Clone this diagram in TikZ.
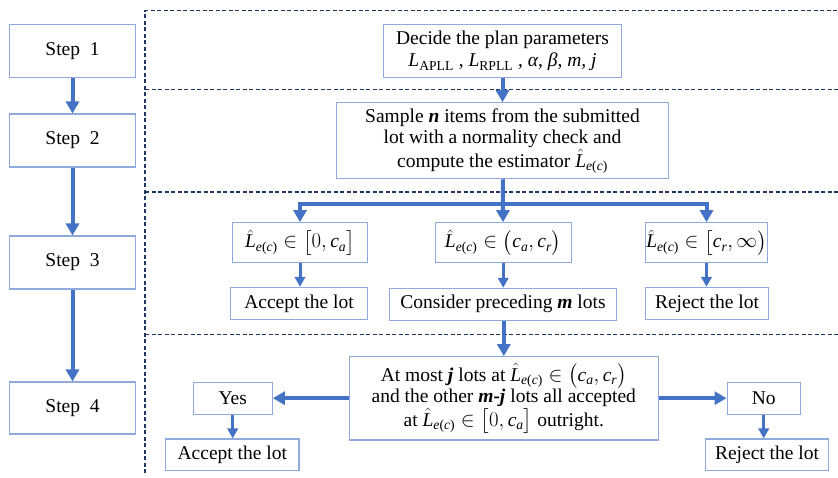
\documentclass[tikz,border=0pt]{standalone}
\usepackage{fontspec}
\usepackage{amsmath}
\setmainfont{Liberation Serif}
\usetikzlibrary{arrows.meta}
\definecolor{boxc}{HTML}{8FAADC}
\definecolor{arrc}{HTML}{4472C4}
\definecolor{dashc}{HTML}{203864}
\newcommand{\mi}[1]{\text{\itshape #1}}
\newcommand{\Lh}{\hat{\mi{L}}_{\mi{e}\text{(}\mi{c}\text{)}}}
\newcommand{\ca}{\mi{c}_{\mi{a}}}
\newcommand{\cre}{\mi{c}_{\mi{r}}}
\begin{document}
\begin{tikzpicture}[x=1pt,y=-1pt,
  box/.style n args={2}{draw=boxc, line width=1.1pt, fill=white, inner sep=0pt,
     align=center, minimum width=#1, minimum height=#2,
     font=\fontsize{19.5}{21.5}\selectfont},
  arr/.style={draw=arrc, line width=4pt, -{Triangle[width=13pt,length=12pt]}},
  sarr/.style={draw=arrc, line width=3pt, -{Triangle[width=10.5pt,length=10pt]}},
  dsh/.style={draw=dashc, line width=1.2pt, dash pattern=on 4pt off 2.5pt}]
\useasboundingbox (0,0) rectangle (838,477);
% dashed frame
\coordinate (vt) at (145,10.7);
\coordinate (vb) at (145,473);
\coordinate (h0r) at (838,10.7);
\coordinate (h1l) at (145,89.3);  \coordinate (h1r) at (838,89.3);
\coordinate (h2l) at (145,192);   \coordinate (h2r) at (838,192);
\coordinate (h3l) at (145,334.3); \coordinate (h3r) at (838,334.3);
\draw[dsh] (vb) -- (vt) -- (h0r);
\draw[dsh] (h1l) -- (h1r);
\draw[dsh] (h2l) -- (h2r);
\draw[dsh] (h3l) -- (h3r);
% step column
\node[box={126.5pt}{52.6pt}] (s1) at (72.5,51) {Step\enspace1};
\node[box={126.5pt}{53pt}] (s2) at (72.5,140.5) {Step\enspace2};
\node[box={126.5pt}{53pt}] (s3) at (72.5,262.5) {Step\enspace3};
\node[box={126.5pt}{52pt}] (s4) at (72.5,408) {Step\enspace4};
\draw[arr] (s1) -- (s2);
\draw[arr] (s2) -- (s3);
\draw[arr] (s3) -- (s4);
% main flow
\node[box={238.4pt}{52.6pt}] (b1) at (502.5,51)
  {Decide the plan parameters\\[1pt]
   $\mi{L}_{\text{APLL}}$ , $\mi{L}_{\text{RPLL}}$ , \textit{α}, \textit{β}, \textit{m}, \textit{j}};
\node[box={331.6pt}{76pt}] (b2) at (502.5,140.7)
  {Sample \textbf{\textit{n}} items from the submitted\\
   lot with a normality check and\\
   compute the estimator $\Lh$};
\node[box={135.4pt}{39.6pt}] (c1) at (300,242.5) {$\Lh\in\big[0,\ca\big]$};
\node[box={135.7pt}{39.6pt}] (c2) at (503.2,242.5) {$\Lh\in\big(\ca,\cre\big)$};
\node[box={121.6pt}{39.6pt}] (c3) at (706.5,242.5) {$\Lh\in\big[\cre,\infty\big)$};
\node[box={137.4pt}{32.4pt}] (a1) at (299,303.5) {Accept the lot};
\node[box={227.4pt}{32pt}] (a2) at (503,304.3) {Consider preceding \textbf{\textit{m}} lots};
\node[box={123.4pt}{32.4pt}] (a3) at (707,303.5) {Reject the lot};
\node[box={309pt}{83.3pt}] (big) at (503.8,398.3)
  {At most \textbf{\textit{j}} lots at $\Lh\in\big(\ca,\cre\big)$\\
   and the other \textbf{\textit{m-j}} lots all accepted\\
   at $\Lh\in\big[0,\ca\big]$ outright.};
\node[box={79.3pt}{31.7pt}] (yes) at (232.7,398.2) {Yes};
\node[box={133.3pt}{31.7pt}] (acc) at (232.3,454.8) {Accept the lot};
\node[box={73.3pt}{31.7pt}] (no) at (763.7,398.2) {No};
\node[box={123.4pt}{31.7pt}] (rej) at (767,454.8) {Reject the lot};
% connectors
\coordinate (br) at (502.5,204);
\draw[arr] (b1) -- (b2);
\draw[arr] (b2) -- (c2);
\draw[arr] (br) -| (c1.north);
\draw[arr] (br) -| (c3.north);
\draw[sarr] (c1) -- (c1 |- a1.north);
\draw[sarr] (c2) -- (c2 |- a2.north);
\draw[sarr] (c3) -- (c3 |- a3.north);
\draw[arr] (a2.south -| big.north) -- (big.north);
\draw[arr] (big.west |- yes) -- (yes.east);
\draw[arr] (big.east |- no) -- (no.west);
\draw[sarr] (yes) -- (yes |- acc.north);
\draw[sarr] (no) -- (no |- rej.north);
\end{tikzpicture}
\end{document}
